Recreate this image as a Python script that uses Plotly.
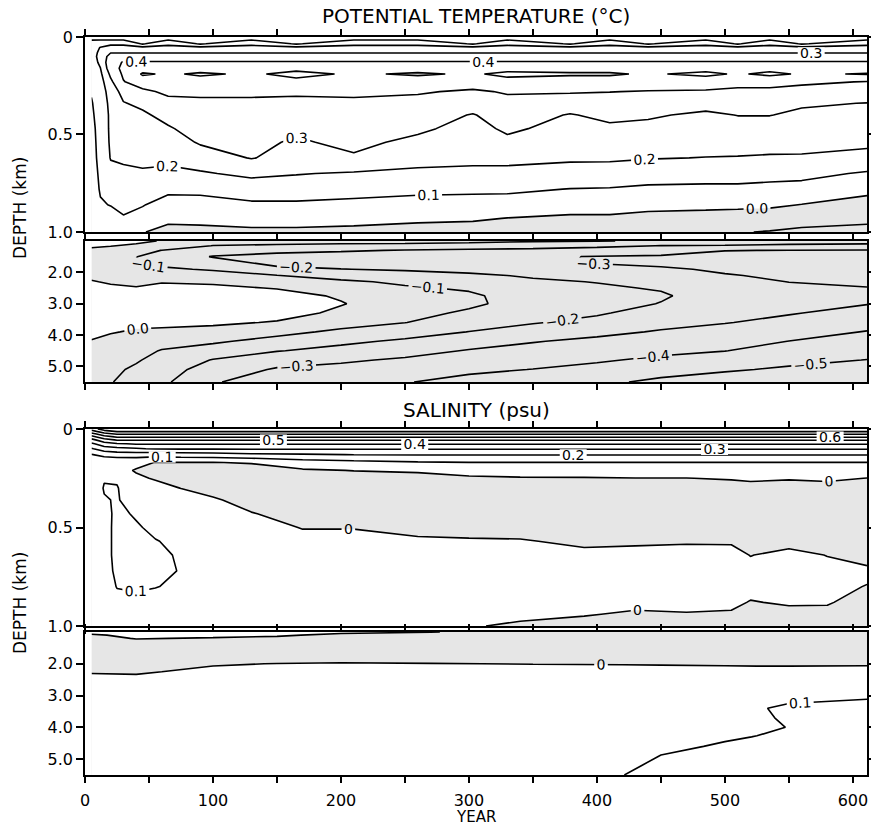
import numpy as np
import plotly.graph_objects as go

FONT = "DejaVu Sans, Liberation Sans, Arial, sans-serif"
GRAY = "#e6e6e6"

# ---------------- POTENTIAL TEMPERATURE, upper 0-1 km ----------------
T_UP_YEARS = [5, 12, 20, 30, 45, 65, 90, 130, 165, 210, 260, 303, 330, 379, 410, 440, 485, 510, 535, 560, 611]
T_UP_DEPTHS = [0, 0.015, 0.035, 0.055, 0.08, 0.1, 0.13, 0.16, 0.19, 0.23, 0.28, 0.34, 0.4, 0.47, 0.54, 0.62, 0.7, 0.78, 0.86, 0.93, 1.0]
# one profile (list over depth) per year
T_UP_PROFILES = [
    [0.05, 0.098, 0.13, 0.15, 0.16, 0.16, 0.15, 0.14, 0.13, 0.12, 0.105, 0.095, 0.09, 0.085, 0.08, 0.08, 0.075, 0.07, 0.065, 0.055, 0.045],
    [0.05, 0.098, 0.16, 0.205, 0.22, 0.23, 0.22, 0.198, 0.18, 0.16, 0.14, 0.13, 0.125, 0.12, 0.12, 0.115, 0.11, 0.105, 0.095, 0.075, 0.055],
    [0.05, 0.098, 0.18, 0.24, 0.295, 0.34, 0.37, 0.36, 0.32, 0.28, 0.25, 0.23, 0.22, 0.22, 0.215, 0.205, 0.17, 0.13, 0.102, 0.08, 0.06],
    [0.05, 0.098, 0.18, 0.24, 0.295, 0.35, 0.405, 0.42, 0.415, 0.395, 0.33, 0.295, 0.28, 0.26, 0.24, 0.215, 0.18, 0.14, 0.115, 0.095, 0.06],
    [0.04, 0.098, 0.09, 0.23, 0.295, 0.34, 0.41, 0.46, 0.51, 0.45, 0.38, 0.32, 0.285, 0.265, 0.245, 0.22, 0.19, 0.15, 0.105, 0.07, 0.003],
    [0.04, 0.098, 0.18, 0.23, 0.295, 0.34, 0.41, 0.47, 0.49, 0.48, 0.42, 0.37, 0.33, 0.29, 0.25, 0.22, 0.18, 0.12, 0.065, 0.015, -0.02],
    [0.04, 0.098, 0.09, 0.23, 0.295, 0.34, 0.41, 0.47, 0.51, 0.47, 0.42, 0.38, 0.36, 0.34, 0.31, 0.25, 0.19, 0.12, 0.07, 0.02, -0.02],
    [0.04, 0.098, 0.18, 0.23, 0.295, 0.34, 0.41, 0.47, 0.49, 0.47, 0.42, 0.38, 0.36, 0.34, 0.32, 0.305, 0.22, 0.15, 0.085, 0.03, -0.015],
    [0.04, 0.098, 0.09, 0.23, 0.295, 0.34, 0.41, 0.48, 0.52, 0.48, 0.42, 0.37, 0.34, 0.315, 0.29, 0.26, 0.205, 0.15, 0.085, 0.03, -0.015],
    [0.04, 0.098, 0.18, 0.23, 0.295, 0.34, 0.41, 0.47, 0.49, 0.47, 0.42, 0.38, 0.36, 0.34, 0.32, 0.29, 0.19, 0.13, 0.08, 0.025, -0.02],
    [0.04, 0.098, 0.18, 0.23, 0.295, 0.34, 0.41, 0.47, 0.51, 0.46, 0.41, 0.37, 0.34, 0.315, 0.28, 0.235, 0.18, 0.12, 0.07, 0.015, -0.03],
    [0.04, 0.098, 0.09, 0.23, 0.295, 0.34, 0.41, 0.47, 0.49, 0.45, 0.385, 0.34, 0.295, 0.27, 0.25, 0.22, 0.18, 0.115, 0.07, 0.01, -0.035],
    [0.04, 0.098, 0.18, 0.23, 0.295, 0.34, 0.41, 0.47, 0.52, 0.47, 0.41, 0.37, 0.34, 0.315, 0.28, 0.23, 0.17, 0.115, 0.065, -0.002, -0.04],
    [0.04, 0.098, 0.09, 0.23, 0.295, 0.34, 0.41, 0.47, 0.51, 0.46, 0.41, 0.34, 0.295, 0.27, 0.245, 0.215, 0.16, 0.098, 0.04, -0.015, -0.055],
    [0.04, 0.098, 0.18, 0.23, 0.295, 0.34, 0.41, 0.47, 0.51, 0.46, 0.402, 0.36, 0.32, 0.285, 0.255, 0.215, 0.155, 0.095, 0.04, -0.015, -0.06],
    [0.04, 0.098, 0.09, 0.23, 0.295, 0.34, 0.41, 0.47, 0.49, 0.45, 0.395, 0.355, 0.31, 0.28, 0.25, 0.205, 0.14, 0.085, 0.025, -0.025, -0.065],
    [0.04, 0.098, 0.18, 0.23, 0.295, 0.34, 0.41, 0.47, 0.52, 0.45, 0.39, 0.33, 0.285, 0.26, 0.235, 0.198, 0.14, 0.08, 0.02, -0.03, -0.07],
    [0.04, 0.098, 0.09, 0.23, 0.295, 0.34, 0.41, 0.47, 0.49, 0.43, 0.38, 0.34, 0.302, 0.27, 0.24, 0.195, 0.14, 0.08, 0.02, -0.04, -0.095],
    [0.04, 0.098, 0.18, 0.23, 0.295, 0.34, 0.41, 0.47, 0.52, 0.43, 0.38, 0.34, 0.302, 0.27, 0.235, 0.19, 0.13, 0.075, 0.015, -0.045, -0.105],
    [0.04, 0.098, 0.09, 0.23, 0.295, 0.34, 0.41, 0.47, 0.49, 0.42, 0.36, 0.31, 0.285, 0.26, 0.23, 0.19, 0.125, 0.07, -0.002, -0.06, -0.12],
    [0.04, 0.098, 0.18, 0.23, 0.295, 0.34, 0.41, 0.47, 0.505, 0.395, 0.35, 0.298, 0.275, 0.25, 0.22, 0.17, 0.09, 0.025, -0.035, -0.085, -0.12],
]

# ---------------- POTENTIAL TEMPERATURE, lower 1-5.5 km ----------------
T_LO_YEARS = [5, 20, 40, 60, 100, 150, 200, 250, 300, 350, 400, 450, 500, 550, 611]
T_LO_DEPTHS = [1.0, 1.15, 1.3, 1.5, 1.7, 1.9, 2.1, 2.3, 2.5, 2.75, 3.0, 3.3, 3.6, 3.9, 4.2, 4.5, 4.8, 5.1, 5.5]
T_LO_PROFILES = [
    [0.03, 0.01, -0.012, -0.04, -0.05, -0.04, -0.018, 0.006, 0.03, 0.04, 0.05, 0.045, 0.035, 0.017, -0.003, -0.03, -0.055, -0.075, -0.095],
    [0.03, 0.004, -0.03, -0.065, -0.078, -0.06, -0.037, -0.01, 0.015, 0.04, 0.06, 0.055, 0.04, 0.006, -0.025, -0.05, -0.07, -0.083, -0.095],
    [0.02, -0.015, -0.06, -0.098, -0.104, -0.08, -0.06, -0.025, 0.006, 0.035, 0.06, 0.045, 0.02, -0.01, -0.04, -0.07, -0.092, -0.113, -0.14],
    [-0.005, -0.05, -0.102, -0.14, -0.125, -0.085, -0.055, -0.008, 0.03, 0.05, 0.07, 0.055, 0.025, -0.02, -0.063, -0.105, -0.13, -0.155, -0.18],
    [-0.06, -0.102, -0.16, -0.205, -0.16, -0.11, -0.06, -0.012, 0.015, 0.035, 0.06, 0.045, 0.015, -0.03, -0.085, -0.145, -0.205, -0.245, -0.29],
    [-0.07, -0.11, -0.18, -0.225, -0.225, -0.18, -0.098, -0.05, -0.004, 0.025, 0.045, 0.03, -0.006, -0.07, -0.135, -0.195, -0.26, -0.31, -0.36],
    [-0.07, -0.12, -0.19, -0.24, -0.24, -0.198, -0.135, -0.085, -0.05, -0.008, 0.004, -0.015, -0.06, -0.12, -0.177, -0.233, -0.287, -0.325, -0.37],
    [-0.06, -0.135, -0.205, -0.25, -0.25, -0.21, -0.165, -0.115, -0.09, -0.065, -0.04, -0.07, -0.098, -0.155, -0.217, -0.267, -0.312, -0.348, -0.395],
    [-0.07, -0.15, -0.215, -0.26, -0.27, -0.225, -0.185, -0.15, -0.11, -0.087, -0.083, -0.114, -0.157, -0.202, -0.255, -0.306, -0.344, -0.381, -0.43],
    [-0.09, -0.165, -0.22, -0.285, -0.29, -0.245, -0.21, -0.187, -0.168, -0.14, -0.14, -0.167, -0.194, -0.24, -0.295, -0.33, -0.366, -0.402, -0.44],
    [-0.098, -0.18, -0.235, -0.305, -0.305, -0.27, -0.237, -0.203, -0.188, -0.17, -0.167, -0.19, -0.225, -0.277, -0.32, -0.354, -0.389, -0.427, -0.48],
    [-0.105, -0.202, -0.26, -0.31, -0.315, -0.29, -0.262, -0.233, -0.207, -0.19, -0.203, -0.236, -0.272, -0.308, -0.343, -0.379, -0.418, -0.463, -0.52],
    [-0.11, -0.21, -0.298, -0.325, -0.327, -0.31, -0.296, -0.28, -0.264, -0.244, -0.254, -0.275, -0.296, -0.33, -0.365, -0.398, -0.444, -0.488, -0.55],
    [-0.12, -0.23, -0.302, -0.318, -0.33, -0.32, -0.31, -0.301, -0.29, -0.278, -0.276, -0.294, -0.325, -0.363, -0.401, -0.438, -0.475, -0.514, -0.57],
    [-0.13, -0.245, -0.305, -0.323, -0.34, -0.33, -0.32, -0.31, -0.298, -0.29, -0.297, -0.328, -0.367, -0.404, -0.437, -0.47, -0.502, -0.529, -0.58],
]

# ---------------- SALINITY, upper 0-1 km ----------------
S_UP_YEARS = [5, 15, 25, 40, 55, 75, 100, 130, 170, 210, 260, 300, 340, 390, 430, 470, 505, 520, 550, 580, 611]
S_UP_DEPTHS = [0, 0.012, 0.025, 0.04, 0.055, 0.075, 0.1, 0.13, 0.17, 0.21, 0.25, 0.3, 0.36, 0.43, 0.5, 0.57, 0.64, 0.72, 0.8, 0.88, 0.94, 1.0]
S_UP_PROFILES = [
    [0.75, 0.66, 0.56, 0.46, 0.37, 0.28, 0.19, 0.095, 0.03, 0.03, 0.04, 0.05, 0.055, 0.06, 0.06, 0.06, 0.06, 0.06, 0.055, 0.05, 0.05, 0.05],
    [0.85, 0.76, 0.66, 0.56, 0.46, 0.36, 0.25, 0.13, 0.02, 0.04, 0.095, 0.105, 0.095, 0.085, 0.08, 0.08, 0.08, 0.08, 0.075, 0.07, 0.065, 0.06],
    [0.88, 0.81, 0.71, 0.61, 0.51, 0.39, 0.27, 0.15, 0.015, 0.02, 0.09, 0.105, 0.105, 0.11, 0.115, 0.115, 0.115, 0.11, 0.102, 0.085, 0.075, 0.065],
    [0.88, 0.81, 0.71, 0.61, 0.51, 0.41, 0.29, 0.15, 0.02, -0.005, 0.01, 0.04, 0.07, 0.095, 0.105, 0.115, 0.12, 0.12, 0.11, 0.08, 0.07, 0.065],
    [0.88, 0.81, 0.71, 0.61, 0.51, 0.41, 0.31, 0.14, -0.002, -0.02, -0.005, 0.02, 0.05, 0.075, 0.09, 0.102, 0.11, 0.11, 0.102, 0.08, 0.07, 0.06],
    [0.88, 0.81, 0.71, 0.61, 0.51, 0.41, 0.31, 0.15, -0.002, -0.025, -0.02, -0.001, 0.03, 0.05, 0.07, 0.09, 0.095, 0.098, 0.09, 0.07, 0.06, 0.055],
    [0.88, 0.81, 0.71, 0.61, 0.51, 0.41, 0.31, 0.16, -0.002, -0.03, -0.03, -0.015, 0.005, 0.03, 0.045, 0.055, 0.06, 0.06, 0.055, 0.05, 0.045, 0.04],
    [0.88, 0.81, 0.71, 0.61, 0.51, 0.41, 0.31, 0.18, 0.005, -0.03, -0.035, -0.03, -0.015, 0.002, 0.02, 0.035, 0.045, 0.05, 0.05, 0.045, 0.04, 0.035],
    [0.88, 0.81, 0.71, 0.61, 0.51, 0.41, 0.31, 0.19, 0.05, -0.01, -0.03, -0.035, -0.03, -0.015, -0.002, 0.015, 0.03, 0.04, 0.04, 0.035, 0.03, 0.03],
    [0.88, 0.81, 0.71, 0.61, 0.51, 0.41, 0.31, 0.202, 0.07, 0.002, -0.03, -0.035, -0.03, -0.02, -0.002, 0.015, 0.03, 0.035, 0.035, 0.03, 0.025, 0.02],
    [0.88, 0.81, 0.71, 0.61, 0.51, 0.41, 0.31, 0.205, 0.09, 0.01, -0.025, -0.035, -0.035, -0.03, -0.015, 0.008, 0.025, 0.03, 0.025, 0.018, 0.012, 0.006],
    [0.88, 0.81, 0.71, 0.61, 0.51, 0.41, 0.31, 0.205, 0.098, 0.025, -0.01, -0.035, -0.04, -0.035, -0.02, 0.006, 0.02, 0.025, 0.018, 0.01, 0.005, 0.001],
    [0.88, 0.81, 0.71, 0.61, 0.51, 0.41, 0.31, 0.205, 0.098, 0.03, -0.005, -0.03, -0.04, -0.035, -0.02, 0.004, 0.018, 0.022, 0.016, 0.008, 0.003, -0.002],
    [0.88, 0.81, 0.71, 0.61, 0.51, 0.41, 0.31, 0.205, 0.098, 0.03, -0.004, -0.03, -0.04, -0.04, -0.03, -0.01, 0.012, 0.02, 0.015, 0.007, 0.001, -0.005],
    [0.88, 0.81, 0.71, 0.61, 0.51, 0.41, 0.31, 0.205, 0.098, 0.035, -0.001, -0.03, -0.04, -0.04, -0.03, -0.007, 0.014, 0.018, 0.012, 0.004, -0.002, -0.008],
    [0.88, 0.81, 0.71, 0.61, 0.51, 0.41, 0.31, 0.205, 0.098, 0.035, -0.001, -0.03, -0.04, -0.04, -0.03, -0.004, 0.015, 0.018, 0.012, 0.005, -0.001, -0.007],
    [0.88, 0.81, 0.71, 0.61, 0.51, 0.41, 0.31, 0.205, 0.098, 0.04, 0.005, -0.025, -0.04, -0.04, -0.03, -0.004, 0.012, 0.015, 0.01, 0.004, -0.002, -0.01],
    [0.88, 0.81, 0.71, 0.61, 0.51, 0.41, 0.31, 0.205, 0.098, 0.045, 0.01, -0.02, -0.04, -0.045, -0.04, -0.025, -0.001, 0.01, 0.006, -0.001, -0.008, -0.015],
    [0.88, 0.81, 0.71, 0.61, 0.51, 0.41, 0.31, 0.205, 0.098, 0.04, 0.005, -0.025, -0.04, -0.045, -0.035, -0.012, 0.01, 0.012, 0.008, 0.002, -0.005, -0.012],
    [0.88, 0.81, 0.71, 0.61, 0.51, 0.41, 0.31, 0.205, 0.098, 0.045, 0.01, -0.02, -0.04, -0.045, -0.04, -0.025, -0.001, 0.01, 0.007, 0.002, -0.006, -0.013],
    [0.88, 0.81, 0.71, 0.61, 0.51, 0.41, 0.31, 0.205, 0.098, 0.035, -0.001, -0.025, -0.04, -0.045, -0.04, -0.03, -0.012, 0.006, -0.001, -0.01, -0.015, -0.02],
]

# ---------------- SALINITY, lower 1-5.5 km ----------------
S_LO_YEARS = [5, 40, 100, 150, 200, 270, 350, 420, 450, 500, 525, 550, 611]
S_LO_DEPTHS = [1.0, 1.1, 1.2, 1.3, 1.5, 1.75, 2.0, 2.25, 2.5, 2.8, 3.1, 3.4, 3.7, 4.0, 4.3, 4.6, 4.9, 5.2, 5.5]
S_LO_PROFILES = [
    [0.02, -0.008, -0.02, -0.025, -0.03, -0.03, -0.02, -0.003, 0.01, 0.02, 0.025, 0.03, 0.03, 0.03, 0.03, 0.03, 0.03, 0.03, 0.03],
    [0.03, 0.015, 0.003, -0.01, -0.03, -0.03, -0.02, -0.005, 0.01, 0.02, 0.025, 0.03, 0.03, 0.03, 0.03, 0.03, 0.03, 0.03, 0.03],
    [0.03, 0.015, -0.004, -0.015, -0.03, -0.03, -0.004, 0.01, 0.02, 0.03, 0.035, 0.035, 0.035, 0.035, 0.035, 0.035, 0.035, 0.035, 0.035],
    [0.025, 0.006, -0.01, -0.02, -0.03, -0.025, 0.001, 0.015, 0.025, 0.03, 0.035, 0.04, 0.04, 0.04, 0.04, 0.04, 0.04, 0.04, 0.04],
    [0.01, -0.01, -0.02, -0.03, -0.03, -0.02, 0.003, 0.015, 0.025, 0.035, 0.04, 0.04, 0.045, 0.045, 0.045, 0.045, 0.045, 0.045, 0.045],
    [0.001, -0.015, -0.025, -0.03, -0.03, -0.02, 0.001, 0.015, 0.025, 0.035, 0.04, 0.045, 0.045, 0.05, 0.05, 0.05, 0.05, 0.05, 0.05],
    [-0.01, -0.02, -0.03, -0.035, -0.035, -0.02, -0.001, 0.015, 0.025, 0.035, 0.04, 0.045, 0.05, 0.05, 0.055, 0.055, 0.06, 0.06, 0.065],
    [-0.012, -0.02, -0.03, -0.035, -0.035, -0.02, -0.002, 0.015, 0.03, 0.04, 0.05, 0.055, 0.06, 0.065, 0.07, 0.075, 0.08, 0.09, 0.099],
    [-0.012, -0.02, -0.03, -0.035, -0.035, -0.02, -0.003, 0.015, 0.03, 0.045, 0.055, 0.065, 0.07, 0.075, 0.085, 0.09, 0.101, 0.11, 0.12],
    [-0.015, -0.025, -0.03, -0.035, -0.035, -0.02, -0.004, 0.012, 0.03, 0.045, 0.06, 0.07, 0.08, 0.088, 0.095, 0.105, 0.115, 0.12, 0.125],
    [-0.015, -0.025, -0.03, -0.035, -0.035, -0.02, -0.005, 0.012, 0.03, 0.05, 0.07, 0.095, 0.09, 0.092, 0.101, 0.11, 0.115, 0.12, 0.125],
    [-0.015, -0.025, -0.03, -0.035, -0.035, -0.02, -0.005, 0.012, 0.035, 0.07, 0.09, 0.11, 0.108, 0.101, 0.11, 0.115, 0.12, 0.125, 0.13],
    [-0.02, -0.03, -0.035, -0.035, -0.035, -0.02, -0.004, 0.012, 0.04, 0.085, 0.099, 0.115, 0.12, 0.12, 0.125, 0.125, 0.13, 0.13, 0.13],
]

X_TICKS = list(range(0, 601, 50))
X_TICKTEXT = [str(v) if v % 100 == 0 else "" for v in X_TICKS]
UP_TICKS = [0, 0.5, 1.0]
UP_TICKTEXT = ["0", "0.5", "1.0"]
LO_TICKS = [2, 3, 4, 5]
LO_TICKTEXT = ["2.0", "3.0", "4.0", "5.0"]

fig = go.Figure()


def add_fill(years, depths, z, xa, ya):
    fig.add_trace(go.Contour(
        x=years, y=depths, z=z, xaxis=xa, yaxis=ya,
        autocontour=False,
        contours=dict(start=0, end=0, size=1, coloring="fill", showlines=False),
        colorscale=[[0, GRAY], [0.5, GRAY], [0.5, "white"], [1, "white"]],
        showscale=False, line=dict(width=0, smoothing=0), hoverinfo="skip",
    ))


def add_lines(years, depths, z, xa, ya, lo, hi, fmt, labels=True):
    fig.add_trace(go.Contour(
        x=years, y=depths, z=z, xaxis=xa, yaxis=ya,
        autocontour=False,
        contours=dict(start=lo, end=hi, size=0.1, coloring="none",
                      showlabels=labels, labelformat=fmt,
                      labelfont=dict(size=14, color="black", family=FONT)),
        line=dict(color="black", width=1.6, smoothing=0),
        showscale=False, hoverinfo="skip",
    ))


z = np.array(T_UP_PROFILES, dtype=float).T
add_fill(T_UP_YEARS, T_UP_DEPTHS, z, "x", "y")
add_lines(T_UP_YEARS, T_UP_DEPTHS, z, "x", "y", -0.6, 0.4, ".1f")
add_lines(T_UP_YEARS, T_UP_DEPTHS, z, "x", "y", 0.5, 0.5, ".1f", labels=False)

z = np.array(T_LO_PROFILES, dtype=float).T
add_fill(T_LO_YEARS, T_LO_DEPTHS, z, "x2", "y2")
add_lines(T_LO_YEARS, T_LO_DEPTHS, z, "x2", "y2", -0.6, 0.6, ".1f")

z = np.array(S_UP_PROFILES, dtype=float).T
add_fill(S_UP_YEARS, S_UP_DEPTHS, z, "x3", "y3")
add_lines(S_UP_YEARS, S_UP_DEPTHS, z, "x3", "y3", -0.1, 0.9, ".1~f")

z = np.array(S_LO_PROFILES, dtype=float).T
add_fill(S_LO_YEARS, S_LO_DEPTHS, z, "x4", "y4")
add_lines(S_LO_YEARS, S_LO_DEPTHS, z, "x4", "y4", -0.1, 0.9, ".1~f")

tickfont = dict(size=16, color="black", family=FONT)
xbase = dict(range=[0, 611], tickmode="array", tickvals=X_TICKS, ticktext=X_TICKTEXT,
             ticks="outside", ticklen=6, tickwidth=1.5, tickcolor="black",
             showline=True, linecolor="black", linewidth=1.6, mirror="ticks",
             showgrid=False, zeroline=False, tickfont=tickfont, automargin=False)
ybase = dict(ticks="outside", ticklen=7, tickwidth=1.5, tickcolor="black",
             showline=True, linecolor="black", linewidth=1.6, mirror="ticks",
             showgrid=False, zeroline=False, tickfont=tickfont, tickmode="array",
             automargin=False)

fig.update_layout(
    width=871, height=827,
    margin=dict(l=85, r=4, t=37, b=52, autoexpand=False),
    paper_bgcolor="white", plot_bgcolor="white",
    showlegend=False,
    font=dict(family=FONT, color="black"),
    xaxis=dict(xbase, anchor="y", showticklabels=False),
    xaxis2=dict(xbase, anchor="y2", showticklabels=False, matches="x"),
    xaxis3=dict(xbase, anchor="y3", showticklabels=False, matches="x"),
    xaxis4=dict(xbase, anchor="y4", showticklabels=True, matches="x", ticklabelstandoff=4),
    yaxis=dict(ybase, domain=[0.7358, 1.0], range=[1.0, 0], tickvals=UP_TICKS, ticktext=UP_TICKTEXT, anchor="x"),
    yaxis2=dict(ybase, domain=[0.5325, 0.7236], range=[5.5, 1.0], tickvals=LO_TICKS, ticktext=LO_TICKTEXT, anchor="x2"),
    yaxis3=dict(ybase, domain=[0.2019, 0.4688], range=[1.0, 0], tickvals=UP_TICKS, ticktext=UP_TICKTEXT, anchor="x3"),
    yaxis4=dict(ybase, domain=[0.0, 0.1938], range=[5.5, 1.0], tickvals=LO_TICKS, ticktext=LO_TICKTEXT, anchor="x4"),
)

ann = [
    dict(text="POTENTIAL TEMPERATURE (°C)", x=0.5, y=(775 - 16) / 738, font=dict(size=20)),
    dict(text="SALINITY (psu)", x=0.5, y=(775 - 410) / 738, font=dict(size=20)),
    dict(text="YEAR", x=0.5, y=(775 - 817) / 738, font=dict(size=15)),
    dict(text="DEPTH (km)", x=(20 - 85) / 782, y=(775 - 208) / 738, textangle=-90, font=dict(size=17)),
    dict(text="DEPTH (km)", x=(20 - 85) / 782, y=(775 - 603) / 738, textangle=-90, font=dict(size=17)),
]
for a in ann:
    a.update(xref="paper", yref="paper", showarrow=False, xanchor="center", yanchor="middle")
    a["font"].update(family=FONT, color="black")
fig.update_layout(annotations=ann)

# remove the page's default body margin and scrollbars so the figure fills the 871x827 window
POST = ("document.documentElement.style.overflow='hidden';"
        "document.body.style.overflow='hidden';"
        "document.body.style.margin='0px';"
        "var gd=document.getElementById('{plot_id}');"
        "gd.style.width='871px';gd.style.height='827px';"
        "Plotly.relayout(gd,{width:871,height:827});")
fig.write_html("out.html", post_script=POST, config={"displayModeBar": False, "responsive": False})
